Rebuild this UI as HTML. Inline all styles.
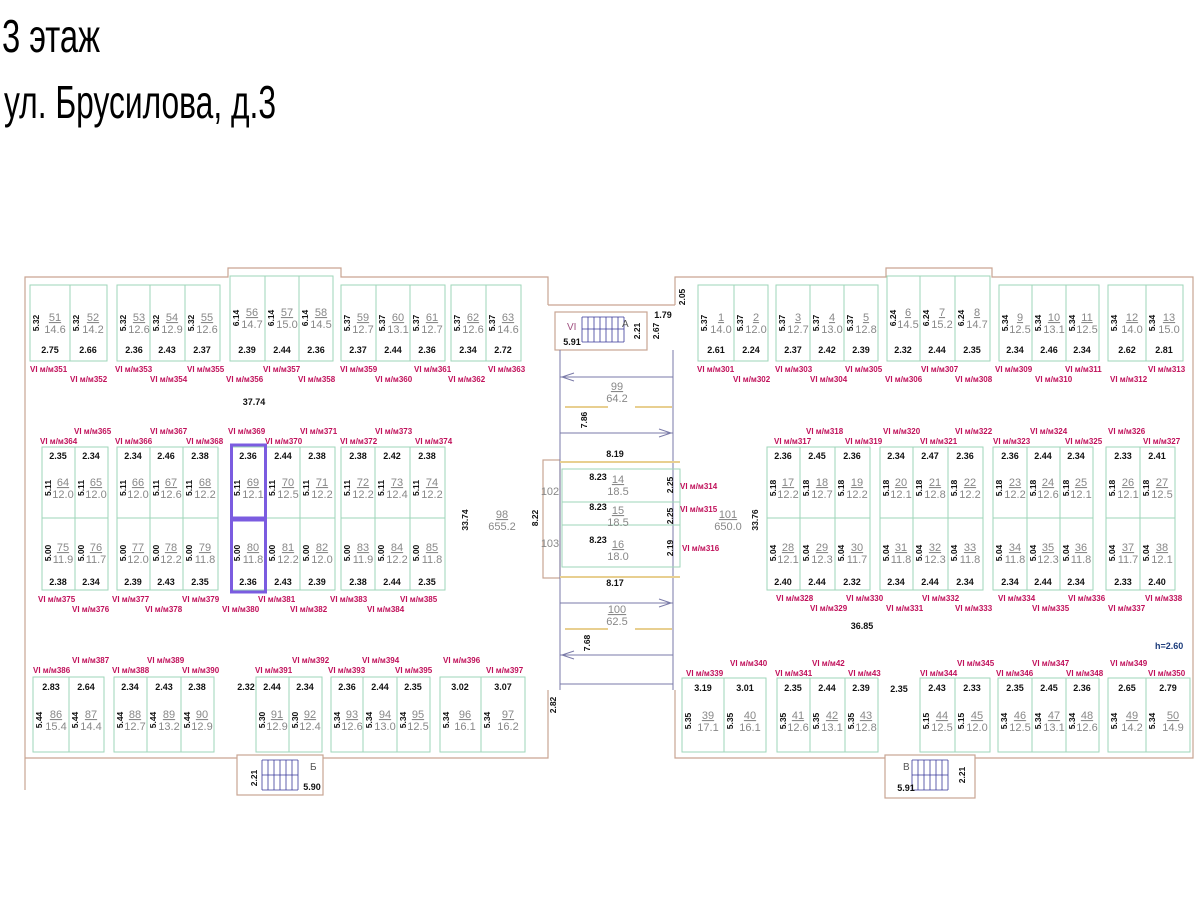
<!DOCTYPE html>
<html><head><meta charset="utf-8"><style>
html,body{margin:0;padding:0;background:#fff;}
svg{display:block;font-family:"Liberation Sans",sans-serif;}
.c rect{fill:none;stroke:#9ed6b8;stroke-width:1;}
.d{font-size:9px;font-weight:bold;text-anchor:middle;fill:#111;}
.v{font-size:8.5px;font-weight:bold;text-anchor:middle;fill:#111;}
.n{font-size:11px;fill:#888;text-anchor:middle;}
.u{text-decoration:underline;}
.l{font-size:8px;font-weight:bold;fill:#c0105a;}
.w{fill:none;stroke:#c9a592;stroke-width:1.2;}
.y{stroke:#e8cf90;stroke-width:2;}
</style></head><body>
<svg width="1200" height="900" viewBox="0 0 1200 900" xmlns="http://www.w3.org/2000/svg">
<text x="2" y="52" font-size="46" textLength="98" lengthAdjust="spacingAndGlyphs">3 этаж</text>
<text x="4" y="118" font-size="46" textLength="272" lengthAdjust="spacingAndGlyphs">ул. Брусилова, д.3</text>

<path class="w" d="M25,790 V277 H228 V268 H341 V277 H548 V305"/>
<path class="w" d="M25,758 H237 M323,758 H548 V690"/>
<path class="w" d="M675,305 V277 H886 V268 H992 V277 H1193 V758 H975 M885,758 H675 V690"/>
<path class="w" d="M548,305 H675"/>
<rect class="w" x="237" y="755" width="86" height="40"/>
<rect class="w" x="885" y="755" width="90" height="43"/>
<rect class="w" x="555" y="312" width="92" height="38"/>
<rect class="w" x="543" y="460" width="17" height="118"/>
<g stroke="#7a7aa8" stroke-width="1" fill="none">
<line x1="560" y1="350" x2="560" y2="690"/><line x1="673" y1="350" x2="673" y2="690"/>
<line x1="560" y1="377" x2="673" y2="377"/><line x1="560" y1="433" x2="673" y2="433"/>
<line x1="560" y1="603" x2="673" y2="603"/><line x1="560" y1="655" x2="673" y2="655"/>
<line x1="560" y1="684" x2="673" y2="684"/>
<path d="M574,373 L562,377 L574,381 M659,429 L671,433 L659,437 M659,599 L671,603 L659,607 M574,651 L562,655 L574,659"/>
</g>
<g class="y"><line x1="565" y1="407" x2="608" y2="407"/><line x1="635" y1="407" x2="672" y2="407"/>
<line x1="565" y1="629" x2="608" y2="629"/><line x1="635" y1="629" x2="672" y2="629"/>
<line x1="560" y1="462" x2="680" y2="462"/><line x1="560" y1="577" x2="680" y2="577"/></g>
<g stroke="#3a3a9a" stroke-width="0.8">
<path d="M582,317 V342 M588,317 V342 M594,317 V342 M600,317 V342 M606,317 V342 M612,317 V342 M618,317 V342 M624,317 V342 M582,317 H624 M582,329 H624 M582,342 H624"/>
<path d="M262,760 V790 M268,760 V790 M274,760 V790 M280,760 V790 M286,760 V790 M292,760 V790 M298,760 V790 M262,760 H298 M262,775 H298 M262,790 H298"/>
<path d="M912,760 V790 M918,760 V790 M924,760 V790 M930,760 V790 M936,760 V790 M942,760 V790 M948,760 V790 M912,760 H948 M912,775 H948 M912,790 H948"/>
</g>
<g class="c"><rect x="562" y="469" width="118" height="33"/><rect x="562" y="502" width="118" height="23"/><rect x="562" y="525" width="118" height="42"/></g>
<text class="d" x="598" y="480">8.23</text><text class="n u" x="618" y="483">14</text><text class="n" x="618" y="495">18.5</text>
<text class="d" x="598" y="510">8.23</text><text class="n u" x="618" y="514">15</text><text class="n" x="618" y="526">18.5</text>
<text class="d" x="598" y="543">8.23</text><text class="n u" x="618" y="548">16</text><text class="n" x="618" y="560">18.0</text>
<text class="v" transform="translate(673,485) rotate(-90)">2.25</text>
<text class="v" transform="translate(673,516) rotate(-90)">2.25</text>
<text class="v" transform="translate(673,548) rotate(-90)">2.19</text>
<text class="n" x="550" y="495">102</text><text class="n" x="550" y="547">103</text>
<text class="v" transform="translate(538,518) rotate(-90)">8.22</text>
<text class="n u" x="617" y="390">99</text><text class="n" x="617" y="402">64.2</text>
<text class="n u" x="617" y="613">100</text><text class="n" x="617" y="625">62.5</text>
<text class="v" transform="translate(587,420) rotate(-90)">7.86</text>
<text class="v" transform="translate(590,643) rotate(-90)">7.68</text>
<text class="d" x="615" y="457">8.19</text><text class="d" x="615" y="586">8.17</text>
<text x="567" y="330" font-size="10" fill="#a05080">VI</text><text x="622" y="327" font-size="10" fill="#555">A</text>
<text class="d" x="572" y="345">5.91</text>
<text class="v" transform="translate(640,331) rotate(-90)">2.21</text>
<text class="v" transform="translate(659,331) rotate(-90)">2.67</text>
<text class="d" x="663" y="318">1.79</text>
<text class="v" transform="translate(685,297) rotate(-90)">2.05</text>
<text x="310" y="770" font-size="10" fill="#555">Б</text><text class="d" x="312" y="790">5.90</text>
<text class="v" transform="translate(257,778) rotate(-90)">2.21</text>
<text x="903" y="770" font-size="10" fill="#555">В</text><text class="d" x="906" y="791">5.91</text>
<text class="v" transform="translate(965,775) rotate(-90)">2.21</text>

<text class="d" x="254" y="405">37.74</text>
<text class="v" transform="translate(468,520) rotate(-90)">33.74</text>
<text class="n u" x="502" y="518">98</text><text class="n" x="502" y="530">655.2</text>
<text class="n u" x="728" y="518">101</text><text class="n" x="728" y="530">650.0</text>
<text class="v" transform="translate(758,520) rotate(-90)">33.76</text>
<text class="d" x="862" y="629">36.85</text>
<text x="1155" y="649" font-size="9" font-weight="bold" fill="#1a3a7a">h=2.60</text>
<text class="d" x="246" y="690">2.32</text><text class="d" x="899" y="692">2.35</text>
<text class="v" transform="translate(556,705) rotate(-90)">2.82</text>

<g class="c">
<g transform="translate(30,285)"><rect width="40" height="76"/><text class="v" transform="translate(9,38) rotate(-90)">5.32</text><text class="n u" x="25" y="36">51</text><text class="n" x="25" y="48">14.6</text><text class="d" x="20" y="68">2.75</text></g>
<g transform="translate(70,285)"><rect width="37" height="76"/><text class="v" transform="translate(9,38) rotate(-90)">5.32</text><text class="n u" x="23" y="36">52</text><text class="n" x="23" y="48">14.2</text><text class="d" x="18" y="68">2.66</text></g>
<g transform="translate(117,285)"><rect width="33" height="76"/><text class="v" transform="translate(9,38) rotate(-90)">5.32</text><text class="n u" x="22" y="36">53</text><text class="n" x="22" y="48">12.6</text><text class="d" x="17" y="68">2.36</text></g>
<g transform="translate(150,285)"><rect width="35" height="76"/><text class="v" transform="translate(9,38) rotate(-90)">5.32</text><text class="n u" x="22" y="36">54</text><text class="n" x="22" y="48">12.9</text><text class="d" x="17" y="68">2.43</text></g>
<g transform="translate(185,285)"><rect width="35" height="76"/><text class="v" transform="translate(9,38) rotate(-90)">5.32</text><text class="n u" x="22" y="36">55</text><text class="n" x="22" y="48">12.6</text><text class="d" x="17" y="68">2.37</text></g>
<g transform="translate(230,276)"><rect width="35" height="85"/><text class="v" transform="translate(9,42) rotate(-90)">6.14</text><text class="n u" x="22" y="40">56</text><text class="n" x="22" y="52">14.7</text><text class="d" x="17" y="77">2.39</text></g>
<g transform="translate(265,276)"><rect width="34" height="85"/><text class="v" transform="translate(9,42) rotate(-90)">6.14</text><text class="n u" x="22" y="40">57</text><text class="n" x="22" y="52">15.0</text><text class="d" x="17" y="77">2.44</text></g>
<g transform="translate(299,276)"><rect width="34" height="85"/><text class="v" transform="translate(9,42) rotate(-90)">6.14</text><text class="n u" x="22" y="40">58</text><text class="n" x="22" y="52">14.5</text><text class="d" x="17" y="77">2.36</text></g>
<g transform="translate(341,285)"><rect width="35" height="76"/><text class="v" transform="translate(9,38) rotate(-90)">5.37</text><text class="n u" x="22" y="36">59</text><text class="n" x="22" y="48">12.7</text><text class="d" x="17" y="68">2.37</text></g>
<g transform="translate(376,285)"><rect width="34" height="76"/><text class="v" transform="translate(9,38) rotate(-90)">5.37</text><text class="n u" x="22" y="36">60</text><text class="n" x="22" y="48">13.1</text><text class="d" x="17" y="68">2.44</text></g>
<g transform="translate(410,285)"><rect width="35" height="76"/><text class="v" transform="translate(9,38) rotate(-90)">5.37</text><text class="n u" x="22" y="36">61</text><text class="n" x="22" y="48">12.7</text><text class="d" x="17" y="68">2.36</text></g>
<g transform="translate(451,285)"><rect width="35" height="76"/><text class="v" transform="translate(9,38) rotate(-90)">5.37</text><text class="n u" x="22" y="36">62</text><text class="n" x="22" y="48">12.6</text><text class="d" x="17" y="68">2.34</text></g>
<g transform="translate(486,285)"><rect width="35" height="76"/><text class="v" transform="translate(9,38) rotate(-90)">5.37</text><text class="n u" x="22" y="36">63</text><text class="n" x="22" y="48">14.6</text><text class="d" x="17" y="68">2.72</text></g>

<g transform="translate(42,447)"><rect width="33" height="71"/><text class="d" x="16" y="12">2.35</text><text class="v" transform="translate(9,41) rotate(-90)">5.11</text><text class="n u" x="21" y="39">64</text><text class="n" x="21" y="51">12.0</text></g>
<g transform="translate(75,447)"><rect width="33" height="71"/><text class="d" x="16" y="12">2.34</text><text class="v" transform="translate(9,41) rotate(-90)">5.11</text><text class="n u" x="21" y="39">65</text><text class="n" x="21" y="51">12.0</text></g>
<g transform="translate(117,447)"><rect width="33" height="71"/><text class="d" x="16" y="12">2.34</text><text class="v" transform="translate(9,41) rotate(-90)">5.11</text><text class="n u" x="21" y="39">66</text><text class="n" x="21" y="51">12.0</text></g>
<g transform="translate(150,447)"><rect width="33" height="71"/><text class="d" x="16" y="12">2.46</text><text class="v" transform="translate(9,41) rotate(-90)">5.11</text><text class="n u" x="21" y="39">67</text><text class="n" x="21" y="51">12.6</text></g>
<g transform="translate(183,447)"><rect width="35" height="71"/><text class="d" x="17" y="12">2.38</text><text class="v" transform="translate(9,41) rotate(-90)">5.11</text><text class="n u" x="22" y="39">68</text><text class="n" x="22" y="51">12.2</text></g>
<g transform="translate(231,447)"><rect width="35" height="71"/><text class="d" x="17" y="12">2.36</text><text class="v" transform="translate(9,41) rotate(-90)">5.11</text><text class="n u" x="22" y="39">69</text><text class="n" x="22" y="51">12.1</text></g>
<g transform="translate(266,447)"><rect width="34" height="71"/><text class="d" x="17" y="12">2.44</text><text class="v" transform="translate(9,41) rotate(-90)">5.11</text><text class="n u" x="22" y="39">70</text><text class="n" x="22" y="51">12.5</text></g>
<g transform="translate(300,447)"><rect width="35" height="71"/><text class="d" x="17" y="12">2.38</text><text class="v" transform="translate(9,41) rotate(-90)">5.11</text><text class="n u" x="22" y="39">71</text><text class="n" x="22" y="51">12.2</text></g>
<g transform="translate(341,447)"><rect width="34" height="71"/><text class="d" x="17" y="12">2.38</text><text class="v" transform="translate(9,41) rotate(-90)">5.11</text><text class="n u" x="22" y="39">72</text><text class="n" x="22" y="51">12.2</text></g>
<g transform="translate(375,447)"><rect width="35" height="71"/><text class="d" x="17" y="12">2.42</text><text class="v" transform="translate(9,41) rotate(-90)">5.11</text><text class="n u" x="22" y="39">73</text><text class="n" x="22" y="51">12.4</text></g>
<g transform="translate(410,447)"><rect width="35" height="71"/><text class="d" x="17" y="12">2.38</text><text class="v" transform="translate(9,41) rotate(-90)">5.11</text><text class="n u" x="22" y="39">74</text><text class="n" x="22" y="51">12.2</text></g>
<g transform="translate(42,518)"><rect width="33" height="72"/><text class="d" x="16" y="67">2.38</text><text class="v" transform="translate(9,35) rotate(-90)">5.00</text><text class="n u" x="21" y="33">75</text><text class="n" x="21" y="45">11.9</text></g>
<g transform="translate(75,518)"><rect width="33" height="72"/><text class="d" x="16" y="67">2.34</text><text class="v" transform="translate(9,35) rotate(-90)">5.00</text><text class="n u" x="21" y="33">76</text><text class="n" x="21" y="45">11.7</text></g>
<g transform="translate(117,518)"><rect width="33" height="72"/><text class="d" x="16" y="67">2.39</text><text class="v" transform="translate(9,35) rotate(-90)">5.00</text><text class="n u" x="21" y="33">77</text><text class="n" x="21" y="45">12.0</text></g>
<g transform="translate(150,518)"><rect width="33" height="72"/><text class="d" x="16" y="67">2.43</text><text class="v" transform="translate(9,35) rotate(-90)">5.00</text><text class="n u" x="21" y="33">78</text><text class="n" x="21" y="45">12.2</text></g>
<g transform="translate(183,518)"><rect width="35" height="72"/><text class="d" x="17" y="67">2.35</text><text class="v" transform="translate(9,35) rotate(-90)">5.00</text><text class="n u" x="22" y="33">79</text><text class="n" x="22" y="45">11.8</text></g>
<g transform="translate(231,518)"><rect width="35" height="72"/><text class="d" x="17" y="67">2.36</text><text class="v" transform="translate(9,35) rotate(-90)">5.00</text><text class="n u" x="22" y="33">80</text><text class="n" x="22" y="45">11.8</text></g>
<g transform="translate(266,518)"><rect width="34" height="72"/><text class="d" x="17" y="67">2.43</text><text class="v" transform="translate(9,35) rotate(-90)">5.00</text><text class="n u" x="22" y="33">81</text><text class="n" x="22" y="45">12.2</text></g>
<g transform="translate(300,518)"><rect width="35" height="72"/><text class="d" x="17" y="67">2.39</text><text class="v" transform="translate(9,35) rotate(-90)">5.00</text><text class="n u" x="22" y="33">82</text><text class="n" x="22" y="45">12.0</text></g>
<g transform="translate(341,518)"><rect width="34" height="72"/><text class="d" x="17" y="67">2.38</text><text class="v" transform="translate(9,35) rotate(-90)">5.00</text><text class="n u" x="22" y="33">83</text><text class="n" x="22" y="45">11.9</text></g>
<g transform="translate(375,518)"><rect width="35" height="72"/><text class="d" x="17" y="67">2.44</text><text class="v" transform="translate(9,35) rotate(-90)">5.00</text><text class="n u" x="22" y="33">84</text><text class="n" x="22" y="45">12.2</text></g>
<g transform="translate(410,518)"><rect width="35" height="72"/><text class="d" x="17" y="67">2.35</text><text class="v" transform="translate(9,35) rotate(-90)">5.00</text><text class="n u" x="22" y="33">85</text><text class="n" x="22" y="45">11.8</text></g>

<g transform="translate(33,677)"><rect width="36" height="75"/><text class="d" x="18" y="13">2.83</text><text class="v" transform="translate(9,43) rotate(-90)">5.44</text><text class="n u" x="23" y="41">86</text><text class="n" x="23" y="53">15.4</text></g>
<g transform="translate(69,677)"><rect width="35" height="75"/><text class="d" x="17" y="13">2.64</text><text class="v" transform="translate(9,43) rotate(-90)">5.44</text><text class="n u" x="22" y="41">87</text><text class="n" x="22" y="53">14.4</text></g>
<g transform="translate(114,677)"><rect width="33" height="75"/><text class="d" x="16" y="13">2.34</text><text class="v" transform="translate(9,43) rotate(-90)">5.44</text><text class="n u" x="21" y="41">88</text><text class="n" x="21" y="53">12.7</text></g>
<g transform="translate(147,677)"><rect width="34" height="75"/><text class="d" x="17" y="13">2.43</text><text class="v" transform="translate(9,43) rotate(-90)">5.44</text><text class="n u" x="22" y="41">89</text><text class="n" x="22" y="53">13.2</text></g>
<g transform="translate(181,677)"><rect width="33" height="75"/><text class="d" x="16" y="13">2.38</text><text class="v" transform="translate(9,43) rotate(-90)">5.44</text><text class="n u" x="21" y="41">90</text><text class="n" x="21" y="53">12.9</text></g>
<g transform="translate(256,677)"><rect width="33" height="75"/><text class="d" x="16" y="13">2.44</text><text class="v" transform="translate(9,43) rotate(-90)">5.30</text><text class="n u" x="21" y="41">91</text><text class="n" x="21" y="53">12.9</text></g>
<g transform="translate(289,677)"><rect width="33" height="75"/><text class="d" x="16" y="13">2.34</text><text class="v" transform="translate(9,43) rotate(-90)">5.30</text><text class="n u" x="21" y="41">92</text><text class="n" x="21" y="53">12.4</text></g>
<g transform="translate(331,677)"><rect width="32" height="75"/><text class="d" x="16" y="13">2.36</text><text class="v" transform="translate(9,43) rotate(-90)">5.34</text><text class="n u" x="21" y="41">93</text><text class="n" x="21" y="53">12.6</text></g>
<g transform="translate(363,677)"><rect width="34" height="75"/><text class="d" x="17" y="13">2.44</text><text class="v" transform="translate(9,43) rotate(-90)">5.34</text><text class="n u" x="22" y="41">94</text><text class="n" x="22" y="53">13.0</text></g>
<g transform="translate(397,677)"><rect width="33" height="75"/><text class="d" x="16" y="13">2.35</text><text class="v" transform="translate(9,43) rotate(-90)">5.34</text><text class="n u" x="21" y="41">95</text><text class="n" x="21" y="53">12.5</text></g>
<g transform="translate(440,677)"><rect width="41" height="75"/><text class="d" x="20" y="13">3.02</text><text class="v" transform="translate(9,43) rotate(-90)">5.34</text><text class="n u" x="25" y="41">96</text><text class="n" x="25" y="53">16.1</text></g>
<g transform="translate(481,677)"><rect width="44" height="75"/><text class="d" x="22" y="13">3.07</text><text class="v" transform="translate(9,43) rotate(-90)">5.34</text><text class="n u" x="27" y="41">97</text><text class="n" x="27" y="53">16.2</text></g>

<g transform="translate(698,285)"><rect width="36" height="76"/><text class="v" transform="translate(9,38) rotate(-90)">5.37</text><text class="n u" x="23" y="36">1</text><text class="n" x="23" y="48">14.0</text><text class="d" x="18" y="68">2.61</text></g>
<g transform="translate(734,285)"><rect width="34" height="76"/><text class="v" transform="translate(9,38) rotate(-90)">5.37</text><text class="n u" x="22" y="36">2</text><text class="n" x="22" y="48">12.0</text><text class="d" x="17" y="68">2.24</text></g>
<g transform="translate(776,285)"><rect width="34" height="76"/><text class="v" transform="translate(9,38) rotate(-90)">5.37</text><text class="n u" x="22" y="36">3</text><text class="n" x="22" y="48">12.7</text><text class="d" x="17" y="68">2.37</text></g>
<g transform="translate(810,285)"><rect width="34" height="76"/><text class="v" transform="translate(9,38) rotate(-90)">5.37</text><text class="n u" x="22" y="36">4</text><text class="n" x="22" y="48">13.0</text><text class="d" x="17" y="68">2.42</text></g>
<g transform="translate(844,285)"><rect width="34" height="76"/><text class="v" transform="translate(9,38) rotate(-90)">5.37</text><text class="n u" x="22" y="36">5</text><text class="n" x="22" y="48">12.8</text><text class="d" x="17" y="68">2.39</text></g>
<g transform="translate(887,276)"><rect width="33" height="85"/><text class="v" transform="translate(9,42) rotate(-90)">6.24</text><text class="n u" x="21" y="40">6</text><text class="n" x="21" y="52">14.5</text><text class="d" x="16" y="77">2.32</text></g>
<g transform="translate(920,276)"><rect width="35" height="85"/><text class="v" transform="translate(9,42) rotate(-90)">6.24</text><text class="n u" x="22" y="40">7</text><text class="n" x="22" y="52">15.2</text><text class="d" x="17" y="77">2.44</text></g>
<g transform="translate(955,276)"><rect width="35" height="85"/><text class="v" transform="translate(9,42) rotate(-90)">6.24</text><text class="n u" x="22" y="40">8</text><text class="n" x="22" y="52">14.7</text><text class="d" x="17" y="77">2.35</text></g>
<g transform="translate(999,285)"><rect width="33" height="76"/><text class="v" transform="translate(9,38) rotate(-90)">5.34</text><text class="n u" x="21" y="36">9</text><text class="n" x="21" y="48">12.5</text><text class="d" x="16" y="68">2.34</text></g>
<g transform="translate(1032,285)"><rect width="34" height="76"/><text class="v" transform="translate(9,38) rotate(-90)">5.34</text><text class="n u" x="22" y="36">10</text><text class="n" x="22" y="48">13.1</text><text class="d" x="17" y="68">2.46</text></g>
<g transform="translate(1066,285)"><rect width="33" height="76"/><text class="v" transform="translate(9,38) rotate(-90)">5.34</text><text class="n u" x="21" y="36">11</text><text class="n" x="21" y="48">12.5</text><text class="d" x="16" y="68">2.34</text></g>
<g transform="translate(1108,285)"><rect width="38" height="76"/><text class="v" transform="translate(9,38) rotate(-90)">5.34</text><text class="n u" x="24" y="36">12</text><text class="n" x="24" y="48">14.0</text><text class="d" x="19" y="68">2.62</text></g>
<g transform="translate(1146,285)"><rect width="37" height="76"/><text class="v" transform="translate(9,38) rotate(-90)">5.34</text><text class="n u" x="23" y="36">13</text><text class="n" x="23" y="48">15.0</text><text class="d" x="18" y="68">2.81</text></g>

<g transform="translate(767,447)"><rect width="33" height="71"/><text class="d" x="16" y="12">2.36</text><text class="v" transform="translate(9,41) rotate(-90)">5.18</text><text class="n u" x="21" y="39">17</text><text class="n" x="21" y="51">12.2</text></g>
<g transform="translate(800,447)"><rect width="35" height="71"/><text class="d" x="17" y="12">2.45</text><text class="v" transform="translate(9,41) rotate(-90)">5.18</text><text class="n u" x="22" y="39">18</text><text class="n" x="22" y="51">12.7</text></g>
<g transform="translate(835,447)"><rect width="35" height="71"/><text class="d" x="17" y="12">2.36</text><text class="v" transform="translate(9,41) rotate(-90)">5.18</text><text class="n u" x="22" y="39">19</text><text class="n" x="22" y="51">12.2</text></g>
<g transform="translate(880,447)"><rect width="33" height="71"/><text class="d" x="16" y="12">2.34</text><text class="v" transform="translate(9,41) rotate(-90)">5.18</text><text class="n u" x="21" y="39">20</text><text class="n" x="21" y="51">12.1</text></g>
<g transform="translate(913,447)"><rect width="35" height="71"/><text class="d" x="17" y="12">2.47</text><text class="v" transform="translate(9,41) rotate(-90)">5.18</text><text class="n u" x="22" y="39">21</text><text class="n" x="22" y="51">12.8</text></g>
<g transform="translate(948,447)"><rect width="35" height="71"/><text class="d" x="17" y="12">2.36</text><text class="v" transform="translate(9,41) rotate(-90)">5.18</text><text class="n u" x="22" y="39">22</text><text class="n" x="22" y="51">12.2</text></g>
<g transform="translate(993,447)"><rect width="34" height="71"/><text class="d" x="17" y="12">2.36</text><text class="v" transform="translate(9,41) rotate(-90)">5.18</text><text class="n u" x="22" y="39">23</text><text class="n" x="22" y="51">12.2</text></g>
<g transform="translate(1027,447)"><rect width="33" height="71"/><text class="d" x="16" y="12">2.44</text><text class="v" transform="translate(9,41) rotate(-90)">5.18</text><text class="n u" x="21" y="39">24</text><text class="n" x="21" y="51">12.6</text></g>
<g transform="translate(1060,447)"><rect width="33" height="71"/><text class="d" x="16" y="12">2.34</text><text class="v" transform="translate(9,41) rotate(-90)">5.18</text><text class="n u" x="21" y="39">25</text><text class="n" x="21" y="51">12.1</text></g>
<g transform="translate(1106,447)"><rect width="34" height="71"/><text class="d" x="17" y="12">2.33</text><text class="v" transform="translate(9,41) rotate(-90)">5.18</text><text class="n u" x="22" y="39">26</text><text class="n" x="22" y="51">12.1</text></g>
<g transform="translate(1140,447)"><rect width="35" height="71"/><text class="d" x="17" y="12">2.41</text><text class="v" transform="translate(9,41) rotate(-90)">5.18</text><text class="n u" x="22" y="39">27</text><text class="n" x="22" y="51">12.5</text></g>
<g transform="translate(767,518)"><rect width="33" height="72"/><text class="d" x="16" y="67">2.40</text><text class="v" transform="translate(9,35) rotate(-90)">5.04</text><text class="n u" x="21" y="33">28</text><text class="n" x="21" y="45">12.1</text></g>
<g transform="translate(800,518)"><rect width="35" height="72"/><text class="d" x="17" y="67">2.44</text><text class="v" transform="translate(9,35) rotate(-90)">5.04</text><text class="n u" x="22" y="33">29</text><text class="n" x="22" y="45">12.3</text></g>
<g transform="translate(835,518)"><rect width="35" height="72"/><text class="d" x="17" y="67">2.32</text><text class="v" transform="translate(9,35) rotate(-90)">5.04</text><text class="n u" x="22" y="33">30</text><text class="n" x="22" y="45">11.7</text></g>
<g transform="translate(880,518)"><rect width="33" height="72"/><text class="d" x="16" y="67">2.34</text><text class="v" transform="translate(9,35) rotate(-90)">5.04</text><text class="n u" x="21" y="33">31</text><text class="n" x="21" y="45">11.8</text></g>
<g transform="translate(913,518)"><rect width="35" height="72"/><text class="d" x="17" y="67">2.44</text><text class="v" transform="translate(9,35) rotate(-90)">5.04</text><text class="n u" x="22" y="33">32</text><text class="n" x="22" y="45">12.3</text></g>
<g transform="translate(948,518)"><rect width="35" height="72"/><text class="d" x="17" y="67">2.34</text><text class="v" transform="translate(9,35) rotate(-90)">5.04</text><text class="n u" x="22" y="33">33</text><text class="n" x="22" y="45">11.8</text></g>
<g transform="translate(993,518)"><rect width="34" height="72"/><text class="d" x="17" y="67">2.34</text><text class="v" transform="translate(9,35) rotate(-90)">5.04</text><text class="n u" x="22" y="33">34</text><text class="n" x="22" y="45">11.8</text></g>
<g transform="translate(1027,518)"><rect width="33" height="72"/><text class="d" x="16" y="67">2.44</text><text class="v" transform="translate(9,35) rotate(-90)">5.04</text><text class="n u" x="21" y="33">35</text><text class="n" x="21" y="45">12.3</text></g>
<g transform="translate(1060,518)"><rect width="33" height="72"/><text class="d" x="16" y="67">2.34</text><text class="v" transform="translate(9,35) rotate(-90)">5.04</text><text class="n u" x="21" y="33">36</text><text class="n" x="21" y="45">11.8</text></g>
<g transform="translate(1106,518)"><rect width="34" height="72"/><text class="d" x="17" y="67">2.33</text><text class="v" transform="translate(9,35) rotate(-90)">5.04</text><text class="n u" x="22" y="33">37</text><text class="n" x="22" y="45">11.7</text></g>
<g transform="translate(1140,518)"><rect width="35" height="72"/><text class="d" x="17" y="67">2.40</text><text class="v" transform="translate(9,35) rotate(-90)">5.04</text><text class="n u" x="22" y="33">38</text><text class="n" x="22" y="45">12.1</text></g>

<g transform="translate(682,678)"><rect width="42" height="74"/><text class="d" x="21" y="13">3.19</text><text class="v" transform="translate(9,43) rotate(-90)">5.35</text><text class="n u" x="26" y="41">39</text><text class="n" x="26" y="53">17.1</text></g>
<g transform="translate(724,678)"><rect width="42" height="74"/><text class="d" x="21" y="13">3.01</text><text class="v" transform="translate(9,43) rotate(-90)">5.35</text><text class="n u" x="26" y="41">40</text><text class="n" x="26" y="53">16.1</text></g>
<g transform="translate(777,678)"><rect width="33" height="74"/><text class="d" x="16" y="13">2.35</text><text class="v" transform="translate(9,43) rotate(-90)">5.35</text><text class="n u" x="21" y="41">41</text><text class="n" x="21" y="53">12.6</text></g>
<g transform="translate(810,678)"><rect width="35" height="74"/><text class="d" x="17" y="13">2.44</text><text class="v" transform="translate(9,43) rotate(-90)">5.35</text><text class="n u" x="22" y="41">42</text><text class="n" x="22" y="53">13.1</text></g>
<g transform="translate(845,678)"><rect width="33" height="74"/><text class="d" x="16" y="13">2.39</text><text class="v" transform="translate(9,43) rotate(-90)">5.35</text><text class="n u" x="21" y="41">43</text><text class="n" x="21" y="53">12.8</text></g>
<g transform="translate(920,678)"><rect width="35" height="74"/><text class="d" x="17" y="13">2.43</text><text class="v" transform="translate(9,43) rotate(-90)">5.15</text><text class="n u" x="22" y="41">44</text><text class="n" x="22" y="53">12.5</text></g>
<g transform="translate(955,678)"><rect width="35" height="74"/><text class="d" x="17" y="13">2.33</text><text class="v" transform="translate(9,43) rotate(-90)">5.15</text><text class="n u" x="22" y="41">45</text><text class="n" x="22" y="53">12.0</text></g>
<g transform="translate(998,678)"><rect width="34" height="74"/><text class="d" x="17" y="13">2.35</text><text class="v" transform="translate(9,43) rotate(-90)">5.34</text><text class="n u" x="22" y="41">46</text><text class="n" x="22" y="53">12.5</text></g>
<g transform="translate(1032,678)"><rect width="34" height="74"/><text class="d" x="17" y="13">2.45</text><text class="v" transform="translate(9,43) rotate(-90)">5.34</text><text class="n u" x="22" y="41">47</text><text class="n" x="22" y="53">13.1</text></g>
<g transform="translate(1066,678)"><rect width="33" height="74"/><text class="d" x="16" y="13">2.36</text><text class="v" transform="translate(9,43) rotate(-90)">5.34</text><text class="n u" x="21" y="41">48</text><text class="n" x="21" y="53">12.6</text></g>
<g transform="translate(1108,678)"><rect width="38" height="74"/><text class="d" x="19" y="13">2.65</text><text class="v" transform="translate(9,43) rotate(-90)">5.34</text><text class="n u" x="24" y="41">49</text><text class="n" x="24" y="53">14.2</text></g>
<g transform="translate(1146,678)"><rect width="44" height="74"/><text class="d" x="22" y="13">2.79</text><text class="v" transform="translate(9,43) rotate(-90)">5.34</text><text class="n u" x="27" y="41">50</text><text class="n" x="27" y="53">14.9</text></g>
</g>
<rect x="231.5" y="445" width="34" height="73" fill="none" stroke="#7b5ce0" stroke-width="3"/>
<rect x="231.5" y="520" width="34" height="72" fill="none" stroke="#7b5ce0" stroke-width="3"/>

<g class="l">
<text x="30" y="372">VI м/м351</text><text x="70" y="382">VI м/м352</text><text x="115" y="372">VI м/м353</text><text x="150" y="382">VI м/м354</text><text x="187" y="372">VI м/м355</text><text x="226" y="382">VI м/м356</text><text x="263" y="372">VI м/м357</text><text x="298" y="382">VI м/м358</text><text x="340" y="372">VI м/м359</text><text x="375" y="382">VI м/м360</text><text x="414" y="372">VI м/м361</text><text x="448" y="382">VI м/м362</text><text x="488" y="372">VI м/м363</text>
<text x="74" y="434">VI м/м365</text><text x="150" y="434">VI м/м367</text><text x="228" y="434">VI м/м369</text><text x="300" y="434">VI м/м371</text><text x="375" y="434">VI м/м373</text>
<text x="40" y="444">VI м/м364</text><text x="115" y="444">VI м/м366</text><text x="186" y="444">VI м/м368</text><text x="265" y="444">VI м/м370</text><text x="340" y="444">VI м/м372</text><text x="415" y="444">VI м/м374</text>
<text x="38" y="602">VI м/м375</text><text x="112" y="602">VI м/м377</text><text x="182" y="602">VI м/м379</text><text x="258" y="602">VI м/м381</text><text x="330" y="602">VI м/м383</text><text x="400" y="602">VI м/м385</text>
<text x="72" y="612">VI м/м376</text><text x="145" y="612">VI м/м378</text><text x="222" y="612">VI м/м380</text><text x="290" y="612">VI м/м382</text><text x="367" y="612">VI м/м384</text>
<text x="72" y="663">VI м/м387</text><text x="147" y="663">VI м/м389</text><text x="292" y="663">VI м/м392</text><text x="362" y="663">VI м/м394</text><text x="443" y="663">VI м/м396</text>
<text x="33" y="673">VI м/м386</text><text x="112" y="673">VI м/м388</text><text x="182" y="673">VI м/м390</text><text x="255" y="673">VI м/м391</text><text x="328" y="673">VI м/м393</text><text x="395" y="673">VI м/м395</text><text x="486" y="673">VI м/м397</text>
<text x="697" y="372">VI м/м301</text><text x="733" y="382">VI м/м302</text><text x="775" y="372">VI м/м303</text><text x="810" y="382">VI м/м304</text><text x="845" y="372">VI м/м305</text><text x="885" y="382">VI м/м306</text><text x="921" y="372">VI м/м307</text><text x="955" y="382">VI м/м308</text><text x="995" y="372">VI м/м309</text><text x="1035" y="382">VI м/м310</text><text x="1065" y="372">VI м/м311</text><text x="1110" y="382">VI м/м312</text><text x="1148" y="372">VI м/м313</text>
<text x="806" y="434">VI м/м318</text><text x="883" y="434">VI м/м320</text><text x="955" y="434">VI м/м322</text><text x="1030" y="434">VI м/м324</text><text x="1108" y="434">VI м/м326</text>
<text x="774" y="444">VI м/м317</text><text x="845" y="444">VI м/м319</text><text x="920" y="444">VI м/м321</text><text x="993" y="444">VI м/м323</text><text x="1065" y="444">VI м/м325</text><text x="1143" y="444">VI м/м327</text>
<text x="776" y="601">VI м/м328</text><text x="846" y="601">VI м/м330</text><text x="922" y="601">VI м/м332</text><text x="998" y="601">VI м/м334</text><text x="1068" y="601">VI м/м336</text><text x="1145" y="601">VI м/м338</text>
<text x="810" y="611">VI м/м329</text><text x="886" y="611">VI м/м331</text><text x="955" y="611">VI м/м333</text><text x="1032" y="611">VI м/м335</text><text x="1108" y="611">VI м/м337</text>
<text x="730" y="666">VI м/м340</text><text x="812" y="666">VI м/м42</text><text x="957" y="666">VI м/м345</text><text x="1032" y="666">VI м/м347</text><text x="1110" y="666">VI м/м349</text>
<text x="686" y="676">VI м/м339</text><text x="775" y="676">VI м/м341</text><text x="848" y="676">VI м/м43</text><text x="920" y="676">VI м/м344</text><text x="996" y="676">VI м/м346</text><text x="1066" y="676">VI м/м348</text><text x="1148" y="676">VI м/м350</text>
<text x="680" y="489">VI м/м314</text><text x="680" y="512">VI м/м315</text><text x="682" y="551">VI м/м316</text>
</g>
</svg>
</body></html>
